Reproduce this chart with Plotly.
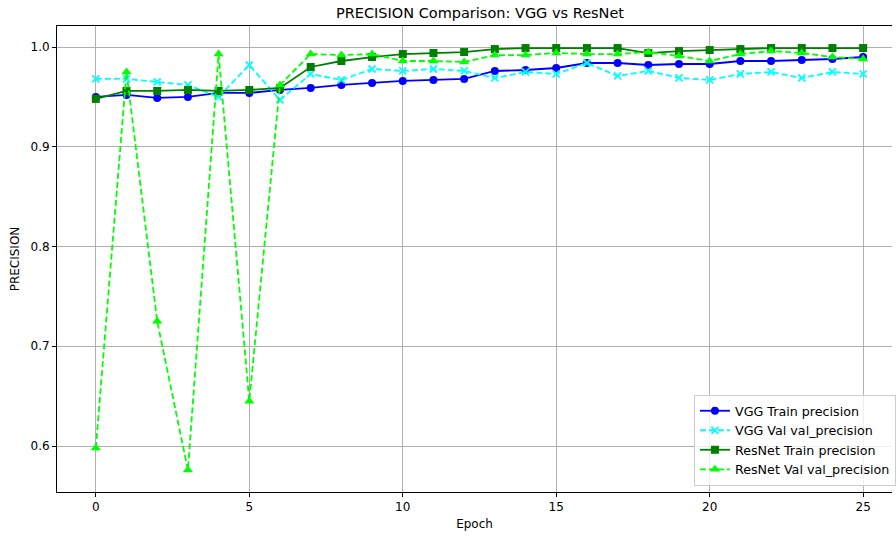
import plotly.graph_objects as go

epochs = list(range(26))
vgg_train = [0.950, 0.952, 0.949, 0.950, 0.954, 0.954, 0.957, 0.959, 0.962, 0.964, 0.966, 0.967, 0.968,
             0.976, 0.977, 0.979, 0.984, 0.984, 0.982, 0.983, 0.983, 0.986, 0.986, 0.987, 0.988, 0.990]
vgg_val = [0.968, 0.968, 0.965, 0.962, 0.950, 0.982, 0.947, 0.973, 0.967, 0.978, 0.976, 0.978, 0.976,
           0.969, 0.975, 0.973, 0.984, 0.971, 0.976, 0.969, 0.967, 0.973, 0.975, 0.969, 0.975, 0.973]
resnet_train = [0.948, 0.956, 0.956, 0.957, 0.956, 0.957, 0.959, 0.980, 0.986, 0.990, 0.993, 0.994, 0.995,
                0.998, 0.999, 0.999, 0.999, 0.999, 0.994, 0.996, 0.997, 0.998, 0.999, 0.999, 0.999, 0.999]
resnet_val = [0.598, 0.975, 0.725, 0.576, 0.993, 0.645, 0.962, 0.993, 0.992, 0.993, 0.986, 0.986, 0.985,
              0.992, 0.992, 0.994, 0.993, 0.993, 0.995, 0.991, 0.986, 0.993, 0.996, 0.994, 0.990, 0.988]

FONT = "DejaVu Sans"
LW = 1.8
DASH = "6px,3px"

fig = go.Figure()
fig.add_trace(go.Scatter(x=epochs, y=vgg_train, mode="lines+markers", name="VGG Train precision",
                         line=dict(color="#0000ff", width=LW),
                         marker=dict(symbol="circle", size=8, color="#0000ff")))
fig.add_trace(go.Scatter(x=epochs, y=vgg_val, mode="lines+markers", name="VGG Val val_precision",
                         line=dict(color="#00ffff", width=LW, dash=DASH),
                         marker=dict(symbol="x-thin", size=7, color="#00ffff",
                                     line=dict(color="#00ffff", width=1.8))))
fig.add_trace(go.Scatter(x=epochs, y=resnet_train, mode="lines+markers", name="ResNet Train precision",
                         line=dict(color="#008000", width=LW),
                         marker=dict(symbol="square", size=8, color="#008000")))
fig.add_trace(go.Scatter(x=epochs, y=resnet_val, mode="lines+markers", name="ResNet Val val_precision",
                         line=dict(color="#00ff00", width=LW, dash=DASH),
                         marker=dict(symbol="triangle-up", size=9, color="#00ff00")))

fig.update_layout(
    width=896, height=536,
    margin=dict(l=57, r=0, t=26, b=44),
    paper_bgcolor="white", plot_bgcolor="white",
    font=dict(family=FONT, size=12, color="#000000"),
    title=dict(text="PRECISION Comparison: VGG vs ResNet", x=480 / 896, xref="container",
               xanchor="center", y=1 - 13 / 536, yref="container", yanchor="middle",
               font=dict(family=FONT, size=14.5, color="#000000")),
    showlegend=True,
    legend=dict(x=(697 - 57) / 839, y=(492 - 486) / 466, xanchor="left", yanchor="bottom",
                bgcolor="rgba(255,255,255,0.8)", bordercolor="#cccccc", borderwidth=1,
                font=dict(family=FONT, size=12.7), tracegroupgap=0, itemwidth=30),
)
fig.update_xaxes(range=[-1.265, 25.94], tickmode="array", tickvals=[0, 5, 10, 15, 20, 25],
                 showgrid=True, gridcolor="#b0b0b0", gridwidth=1, zeroline=False,
                 showline=True, linecolor="#000000", linewidth=1, mirror=True,
                 ticks="outside", ticklen=4, tickcolor="#000000",
                 title=dict(text="Epoch", font=dict(family=FONT, size=12), standoff=6))
fig.update_yaxes(range=[0.5539, 1.0211], tickmode="array", tickvals=[0.6, 0.7, 0.8, 0.9, 1.0],
                 ticktext=["0.6", "0.7", "0.8", "0.9", "1.0"],
                 showgrid=True, gridcolor="#b0b0b0", gridwidth=1, zeroline=False,
                 showline=True, linecolor="#000000", linewidth=1, mirror=False,
                 ticks="outside", ticklen=4, tickcolor="#000000",
                 title=dict(text="PRECISION", font=dict(family=FONT, size=12), standoff=8))

fig.write_html("out.html")
